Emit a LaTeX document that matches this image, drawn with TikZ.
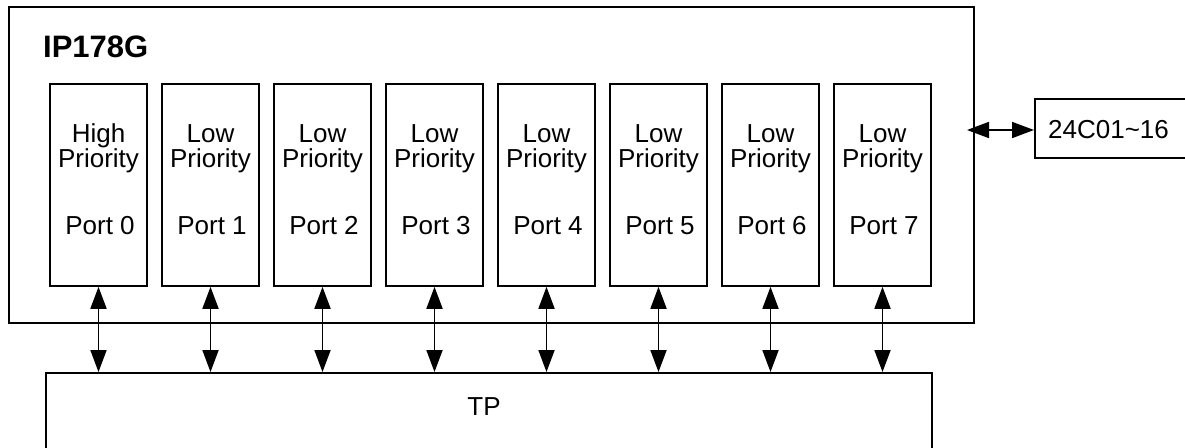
\documentclass[tikz,border=0pt]{standalone}
\usepackage{fontspec}
\setmainfont{Liberation Sans}
\usetikzlibrary{arrows.meta}
\tikzset{
  box/.style={draw, line width=1.6pt, inner sep=0pt, rectangle},
  lbl/.style={inner sep=0pt, font=\fontsize{26}{26}\selectfont},
  tipx/.tip={Triangle[length=22pt,width=16pt]},
  biarrow/.style={line width=1.8pt, tipx-tipx},
}
\begin{document}
\begin{tikzpicture}[x=1pt,y=-1pt]
\useasboundingbox (0,0) rectangle (1185,447);
\clip (0,0) rectangle (1185,447);
% outer chip box
\node[box, minimum width=965pt, minimum height=316pt, anchor=north west] (chip) at (8,6) {};
\node[inner sep=0pt, anchor=base west, font=\fontsize{31}{31}\selectfont\bfseries] (title) at (43,57) {IP178G};
% TP box
\node[box, minimum width=886pt, minimum height=100pt, anchor=north west] (tp) at (45,372) {};
\node[lbl, anchor=base] (tplbl) at (484,415) {TP};
% EEPROM box
\node[box, minimum width=170pt, minimum height=59pt, anchor=north west] (eep) at (1034,98) {};
\node[lbl, anchor=base west] (eeplbl) at (1048,138) {24C01\char`~16};
\coordinate (eepend) at (967,130);
\draw[biarrow] (eepend) -- (eepend -| eep.west);
% ports
\foreach \i in {0,...,7} {
  \node[box, minimum width=97pt, minimum height=202pt] (p\i) at ({98.5+112*\i},185) {};
  \node[lbl, anchor=base] (h\i) at ({98.5+112*\i},142) {\ifnum\i=0 High\else Low\fi};
  \node[lbl, anchor=base] (r\i) at ({98.5+112*\i},167) {Priority};
  \node[lbl, anchor=base] (n\i) at ({100+112*\i},234) {Port \i};
  \draw[biarrow] (p\i.south) -- (p\i.south |- tp.north);
}
\end{tikzpicture}
\end{document}
